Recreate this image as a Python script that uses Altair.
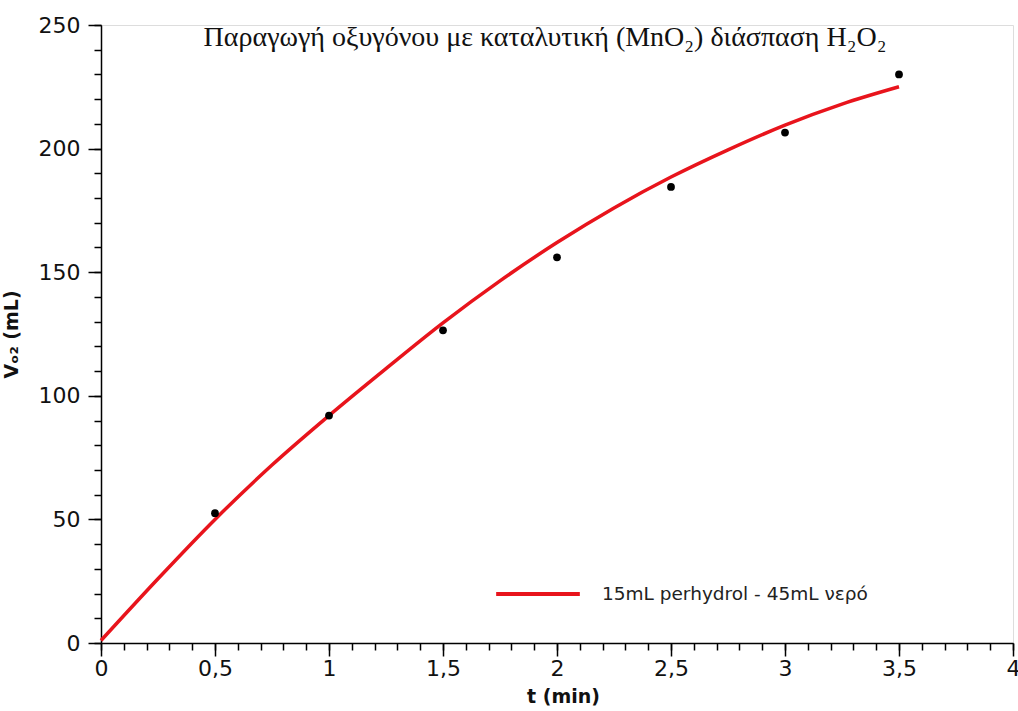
import altair as alt
import pandas as pd

# observed points
t_obs = [0.5, 1.0, 1.5, 2.0, 2.5, 3.0, 3.5]
v_obs = [52.5, 92, 126.5, 156, 184.5, 206.5, 230]

# fitted curve
t_fit = [0, 0.25, 0.5, 0.75, 1.0, 1.25, 1.5, 1.75, 2.0, 2.25, 2.5, 2.75, 3.0, 3.25, 3.5]
v_fit = [1, 26, 50, 72, 92, 111, 129.5, 146.5, 162, 176, 188.5, 199.5, 209.5, 218, 225]

x_major = [0, 0.5, 1, 1.5, 2, 2.5, 3, 3.5, 4]
x_minor = [i / 10 for i in range(41)]
y_major = [0, 50, 100, 150, 200, 250]
y_minor = list(range(0, 251, 10))

series_name = "15mL perhydrol - 45mL νερό"
title_text = "Παραγωγή οξυγόνου με καταλυτική (MnO₂) διάσπαση H₂O₂"

obs = pd.DataFrame({"t": t_obs, "v": v_obs})
fit = pd.DataFrame({"t": t_fit, "v": v_fit, "s": [series_name] * len(t_fit)})

FONT = "DejaVu Sans"
xscale = alt.Scale(domain=[0, 4], nice=False, zero=False)
yscale = alt.Scale(domain=[0, 250], nice=False)

ax_common = dict(domainColor="black", domainWidth=1.5, tickColor="black", tickWidth=1.5,
                 grid=False, labelFont=FONT, labelFontSize=22, labelColor="#111",
                 labelFlush=False, labelOverlap=False,
                 titleFont=FONT, titleFontSize=19, titleFontWeight="bold", titleColor="#111")

x_axis = alt.Axis(values=x_major, tickSize=13, labelPadding=2, orient="bottom",
                  labelExpr="replace(toString(datum.value), '.', ',')",
                  title="t (min)", titleX=462, titleY=44, titleAnchor="middle",
                  **ax_common)
y_axis = alt.Axis(values=y_major, tickSize=13, labelPadding=8, orient="left",
                  title="Vₒ₂ (mL)", titleX=-80, titleY=309, titleAnchor="middle",
                  **ax_common)

x_axis_minor = alt.Axis(values=x_minor, tickSize=7, labels=False, title=None, domain=False,
                        orient="bottom", tickColor="black", tickWidth=1.5, grid=False)
y_axis_minor = alt.Axis(values=y_minor, tickSize=7, labels=False, title=None, domain=False,
                        orient="left", tickColor="black", tickWidth=1.5, grid=False)

line = alt.Chart(fit).mark_line(color="#e8141c", strokeWidth=3.5, interpolate="monotone").encode(
    x=alt.X("t:Q", scale=xscale, axis=x_axis),
    y=alt.Y("v:Q", scale=yscale, axis=y_axis),
    color=alt.Color("s:N", scale=alt.Scale(range=["#e8141c"]),
                    legend=alt.Legend(title=None, orient="none", legendX=393, legendY=525,
                                      symbolType="stroke", symbolSize=7000, symbolStrokeWidth=4,
                                      labelFont=FONT, labelFontSize=18.5, labelColor="#222",
                                      labelLimit=0, labelOffset=20, padding=0)),
)

pts = alt.Chart(obs).mark_circle(color="black", size=60, opacity=1).encode(
    x=alt.X("t:Q", scale=xscale, axis=x_axis_minor),
    y=alt.Y("v:Q", scale=yscale, axis=y_axis_minor),
)

title = alt.Chart(pd.DataFrame({"txt": [title_text]})).mark_text(
    font="Liberation Serif", fontSize=28, color="#111", baseline="alphabetic", align="center"
).encode(text="txt:N", x=alt.value(444), y=alt.value(21))

chart = alt.layer(line, pts, title).resolve_axis(x="independent", y="independent").properties(
    width=912, height=618,
    autosize=alt.AutoSizeParams(type="none"),
    padding={"left": 101, "top": 25, "right": 5, "bottom": 68},
).configure_view(stroke=None).configure(background="white")

chart.save("out.html", embed_options={"renderer": "svg", "actions": False})
